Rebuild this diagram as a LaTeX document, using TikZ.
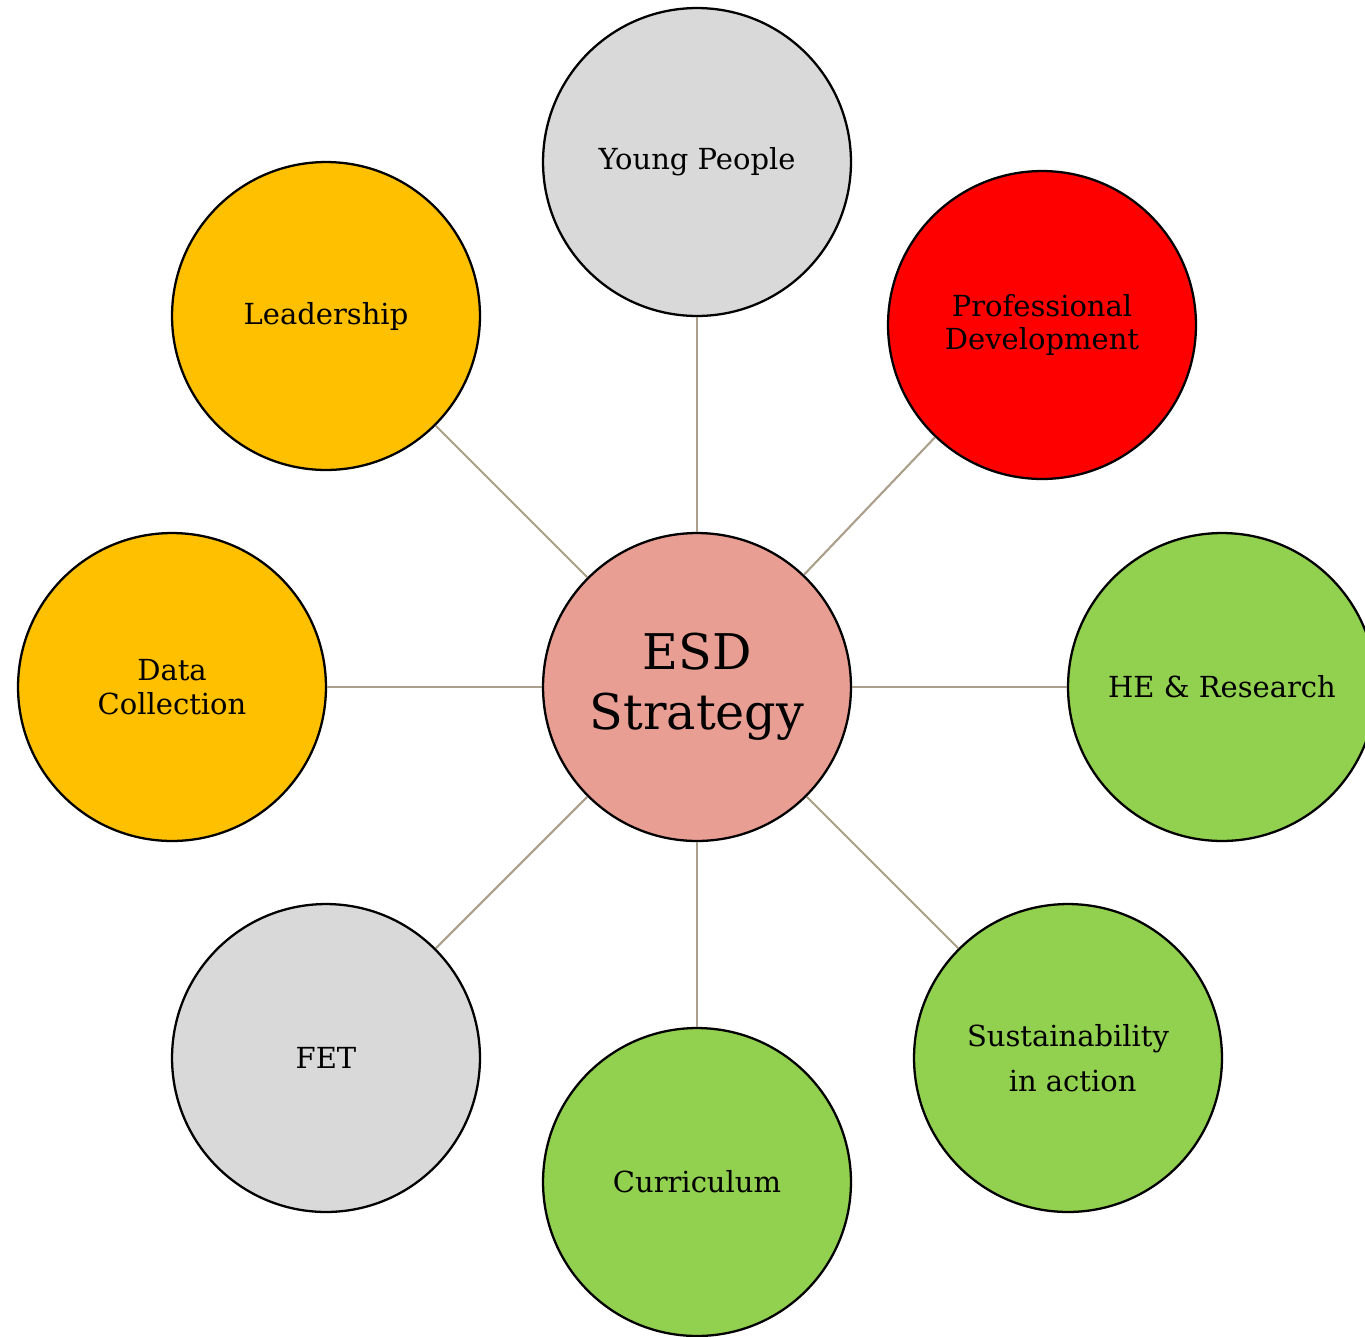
\documentclass[tikz,border=0pt]{standalone}
\usepackage{fontspec}
\setmainfont{DejaVu Serif}
\usetikzlibrary{positioning}
\definecolor{greyfill}{HTML}{D9D9D9}
\definecolor{amber}{HTML}{FFC000}
\definecolor{redfill}{HTML}{FF0000}
\definecolor{greenfill}{HTML}{92D050}
\definecolor{esdpink}{HTML}{E99E94}
\definecolor{linkcol}{HTML}{AB9E8A}
\tikzset{
  topic/.style={draw,circle,line width=1.3pt,minimum size=6.16cm,inner sep=0pt,align=center,font=\fontsize{16.5}{19.3}\selectfont},
  link/.style={draw=linkcol,line width=1.2pt}
}

\begin{document}
\begin{tikzpicture}[x=0.02cm,y=-0.02cm]
  \useasboundingbox (0,0) rectangle (1365,1336);
  \node[topic,fill=esdpink,font=\fontsize{28}{34}\selectfont] (esd) at (697,687) {ESD\\Strategy};
  \node[topic,fill=greyfill] (young) at (697,162) {Young People};
  \node[topic,fill=amber] (lead) at (326,316) {Leadership};
  \node[topic,fill=redfill] (prof) at (1042,325) {Professional\\Development};
  \node[topic,fill=amber] (data) at (172,687) {Data\\Collection};
  \node[topic,fill=greenfill] (he) at (1222,687) {HE \& Research};
  \node[topic,fill=greyfill] (fet) at (326,1058) {FET};
  \node[topic,fill=greenfill] (curr) at (697,1182) {Curriculum};
  \node[topic,fill=greenfill,font=\fontsize{16.5}{25.5}\selectfont] (sust) at (1068,1058) {Sustainability\\ \ in action};
  \draw[link] (esd) -- (young);
  \draw[link] (esd) -- (lead);
  \draw[link] (esd) -- (prof);
  \draw[link] (esd) -- (data);
  \draw[link] (esd) -- (he);
  \draw[link] (esd) -- (fet);
  \draw[link] (esd) -- (curr);
  \draw[link] (esd) -- (sust);
\end{tikzpicture}
\end{document}
